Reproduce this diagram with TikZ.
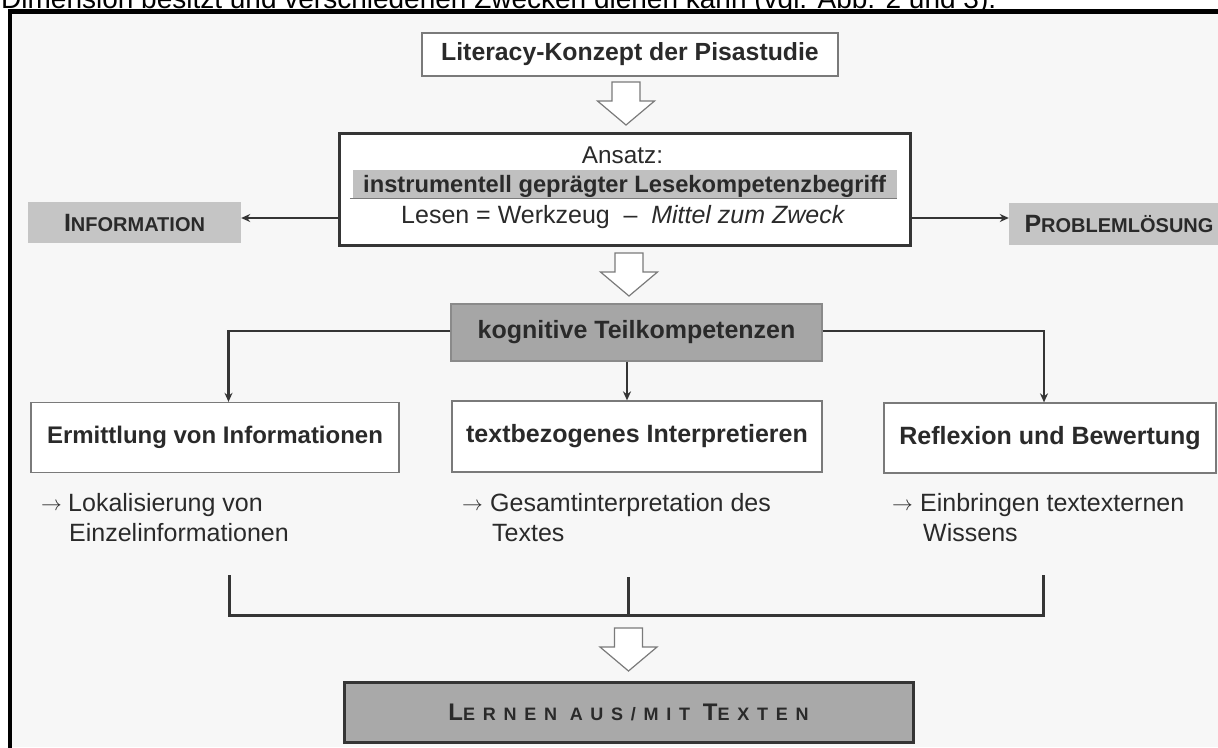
\documentclass[tikz,border=0pt]{standalone}
\usepackage{fontspec}
\setmainfont{Liberation Sans}
\newfontfamily\spacedfont[LetterSpace=43]{Liberation Sans}
\usetikzlibrary{arrows.meta,calc}
\definecolor{ink}{HTML}{2A2A2A}
\definecolor{paper}{HTML}{F7F7F7}
\definecolor{thinline}{HTML}{7A7A7A}
\definecolor{darkline}{HTML}{353535}
\definecolor{lightfill}{HTML}{C5C5C5}
\definecolor{bandfill}{HTML}{C0C0C0}
\definecolor{midfill}{HTML}{A6A6A6}
\definecolor{midline}{HTML}{8A8A8A}
\definecolor{lernfill}{HTML}{A9A9A9}
\newcommand{\fs}[1]{\fontsize{#1}{#1}\selectfont}
\newcommand{\smarr}{{\fs{22}$\rightarrow$}}
\tikzset{
  thinbox/.style={draw=thinline, line width=1.3pt, fill=white, inner sep=0pt, text=ink},
  graybox/.style={fill=lightfill, inner sep=0pt, text=ink},
  conn/.style={draw=darkline, line width=2.4pt, -{Stealth[length=9pt,width=8pt]}},
  bracketline/.style={draw=darkline, line width=3pt},
  hollow/.pic={\draw[thinline, line width=1.2pt, fill=white, line join=miter]
     (-14,0) -- (14,0) -- (14,19) -- (28.5,19) -- (0,43) -- (-28.5,19) -- (-14,19) -- cycle;},
  plain/.style={inner sep=0pt, text=ink, anchor=base west, font=\fs{25}},
}
\begin{document}
\begin{tikzpicture}[x=1pt,y=-1pt]
\useasboundingbox (0,0) rectangle (1218,747);
\fill[white] (0,0) rectangle (1218,747);
\fill[paper] (10,11.5) rectangle (1218,747);
\node[anchor=base west, inner sep=0pt, font=\fs{28}, text=black] (toptext) at (1,8) {Dimension besitzt und verschiedenen Zwecken dienen kann (vgl. Abb. 2 und 3).};
\draw[black, line width=4.5pt] (10,760) -- (10,11.5) -- (1230,11.5);

% top box
\node[thinbox, minimum width=416pt, minimum height=43pt, font=\bfseries\fs{24.8}] (lit) at (630,54.5) {Literacy-Konzept der Pisastudie};
\pic at (626,82) {hollow};

% Ansatz box
\node[draw=darkline, line width=3pt, fill=white, minimum width=571pt, minimum height=112pt, inner sep=0pt] (ansatz) at (624.5,189) {};
\node[plain, anchor=base, font=\fs{24.3}] (ansatzlbl) at (622.5,163) {Ansatz:};
\node[fill=bandfill, minimum width=544pt, minimum height=28pt, inner sep=0pt] (band) at (625,184) {};
\draw[thinline, line width=1.3pt] ([xshift=-3pt]band.south west) -- (band.south east);
\node[plain, font=\bfseries\fs{23.7}] (bandtxt) at (363,192) {instrumentell geprägter Lesekompetenzbegriff};
\node[plain] (lesen) at (401,223) {Lesen = Werkzeug\hspace{0.55em}–\hspace{0.55em}\textit{Mittel zum Zweck}};

% side boxes
\node[graybox, minimum width=213pt, minimum height=41pt, font=\bfseries] (info) at (134.5,222.5) {\fs{25}I\fs{20}NFORMATION};
\node[graybox, minimum width=220pt, minimum height=42pt, font=\bfseries] (prob) at (1119,224) {\fs{25}P\fs{20}ROBLEMLÖSUNG};
\coordinate (aL) at ([yshift=-29pt]ansatz.west);
\coordinate (aR) at ([yshift=-29pt]ansatz.east);
\draw[conn] (aL) -- (aL -| info.east);
\draw[conn] (aR) -- (aR -| prob.west);

\pic at (629,253) {hollow};

% kognitive
\node[fill=midfill, draw=midline, line width=1.3pt, minimum width=371pt, minimum height=57pt, inner sep=0pt, text=ink, font=\bfseries\fs{25}] (kog) at (636.5,332.5) {kognitive Teilkompetenzen};

\node[thinbox, minimum width=368pt, minimum height=70pt, font=\bfseries\fs{24}] (erm) at (215,437.5) {Ermittlung von Informationen};
\node[thinbox, minimum width=370pt, minimum height=71pt, font=\bfseries\fs{25}] (txt) at (637,436.5) {textbezogenes Interpretieren};
\node[thinbox, minimum width=332pt, minimum height=70pt, font=\bfseries\fs{25}] (refl) at (1050,438) {Reflexion und Bewertung};

\coordinate (cL) at (228.5,331);
\coordinate (cM) at (627,331);
\coordinate (cR) at (1044,331);
\draw[conn] (cL -| kog.west) -- (cL) -- (cL |- erm.north);
\draw[conn] (cM |- kog.south) -- (cM |- txt.north);
\draw[conn] (cR -| kog.east) -- (cR) -- (cR |- refl.north);

% sub texts
\node[plain] (a1) at (41,510) {\smarr};
\node[plain] (t1a) at (68,511) {Lokalisierung von};
\node[plain] (t1b) at (69,541) {Einzelinformationen};
\node[plain] (a2) at (462,510) {\smarr};
\node[plain] (t2a) at (490,511) {Gesamtinterpretation des};
\node[plain] (t2b) at (492,541) {Textes};
\node[plain] (a3) at (892,510) {\smarr};
\node[plain] (t3a) at (920,511) {Einbringen textexternen};
\node[plain] (t3b) at (923,541) {Wissens};

% bracket
\coordinate (bL) at (229,575);
\coordinate (bM) at (628,577);
\coordinate (bR) at (1043,575);
\coordinate (bB) at (628,615);
\draw[bracketline] (bL) -- (bL |- bB) -- (bR |- bB) -- (bR);
\draw[bracketline] (bM) -- (bB);

\pic at (628.5,628) {hollow};

\node[fill=lernfill, draw=darkline, line width=3pt, minimum width=569pt, minimum height=60pt, inner sep=0pt, text=ink] (lern) at (628.5,712) {\spacedfont\bfseries\fs{24}L\fs{18}ERNEN AUS/MIT \fs{24}T\fs{18}EXTEN};
\end{tikzpicture}
\end{document}
